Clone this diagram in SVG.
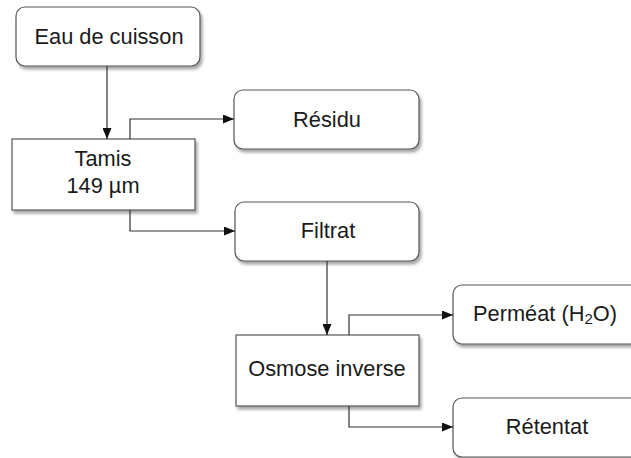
<svg xmlns="http://www.w3.org/2000/svg" width="631" height="458" viewBox="0 0 631 458">
<defs>
<filter id="sh" x="-10%" y="-10%" width="130%" height="140%">
<feDropShadow dx="2" dy="3" stdDeviation="1.5" flood-color="#000" flood-opacity="0.35"/>
</filter>
<marker id="ah" markerWidth="11" markerHeight="9" refX="11" refY="4.5" orient="auto" markerUnits="userSpaceOnUse">
<path d="M0,0 L11,4.5 L0,9 Z" fill="#111"/>
</marker>
</defs>
<style>
.box{fill:#fff;stroke:#555;stroke-width:1.2;filter:url(#sh)}
.t{font-family:"Liberation Sans",Arial,sans-serif;font-size:21.8px;fill:#1a1a1a;text-anchor:middle}
.c{fill:none;stroke:#333;stroke-width:1.2;marker-end:url(#ah)}
</style>
<rect width="631" height="458" fill="#fff"/>
<g id="eau"><rect class="box" x="16" y="7" width="184" height="59" rx="9"/><text class="t" x="109" y="44">Eau de cuisson</text></g>
<g id="tamis"><rect class="box" x="12" y="139" width="183" height="71"/><text class="t" x="103" y="166">Tamis</text><text class="t" x="103" y="193">149 µm</text></g>
<g id="residu"><rect class="box" x="234" y="90" width="185" height="59" rx="9"/><text class="t" x="327" y="127">Résidu</text></g>
<g id="filtrat"><rect class="box" x="235" y="202" width="184" height="59" rx="9"/><text class="t" x="328" y="238">Filtrat</text></g>
<g id="osmose"><rect class="box" x="236" y="335" width="183" height="71"/><text class="t" x="327" y="376">Osmose inverse</text></g>
<g id="permeat"><rect class="box" x="453" y="285" width="190" height="59" rx="9"/><text class="t" x="545" y="321">Perméat (H<tspan font-size="15" dy="3">2</tspan><tspan dy="-3">O)</tspan></text></g>
<g id="retentat"><rect class="box" x="453" y="398" width="190" height="59" rx="9"/><text class="t" x="547" y="434">Rétentat</text></g>
<g id="connectors">
<path class="c" d="M107,66 V139"/>
<path class="c" d="M130,139 V119 H234"/>
<path class="c" d="M130,210 V231 H235"/>
<path class="c" d="M327,261 V335"/>
<path class="c" d="M349,335 V315 H453"/>
<path class="c" d="M349,406 V427 H453"/>
</g>
</svg>
